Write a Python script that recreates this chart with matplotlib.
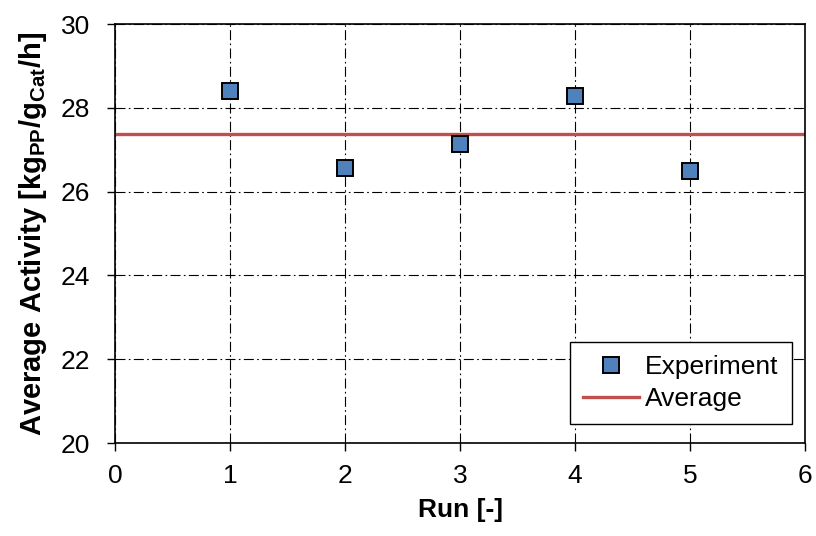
import matplotlib
matplotlib.use('Agg')
import matplotlib.pyplot as plt
import numpy as np

plt.rcParams['font.family'] = ['Liberation Sans', 'DejaVu Sans']
plt.rcParams['mathtext.fontset'] = 'custom'
plt.rcParams['mathtext.rm'] = 'Liberation Sans:bold'
plt.rcParams['mathtext.it'] = 'Liberation Sans:bold'
plt.rcParams['mathtext.bf'] = 'Liberation Sans:bold'

# activity per run
runs = [1, 2, 3, 4, 5]
activity = [28.40, 26.56, 27.14, 28.28, 26.49]
avg = np.mean(activity)

fig = plt.figure(figsize=(8.16, 5.36), dpi=100)
ax = fig.add_axes([0.141, 0.1735, 0.8455, 0.7815])

ax.axhline(avg, color='#C0504D', lw=2.4, label='Average', zorder=2)
ax.plot(runs, activity, ls='none', marker='s', ms=12, mfc='#4F81BD',
        mec='black', mew=1.4, label='Experiment', zorder=3)

ax.set_xlim(0, 6)
ax.set_ylim(20, 30)
ax.set_xticks(range(0, 7))
ax.set_yticks(range(20, 31, 2))
ax.grid(True, color='black', ls=(0, (9, 3, 1.5, 3)), lw=0.8)
ax.tick_params(labelsize=19, direction='out', length=6, width=1)
ax.tick_params(axis='y', pad=12)
ax.tick_params(axis='x', pad=9)
for sp in ax.spines.values():
    sp.set_linewidth(1.2)

ax.set_xlabel('Run [-]', fontsize=19, fontweight='bold', labelpad=7)
ax.set_ylabel('Average Activity [kg$_{PP}$/g$_{Cat}$/h]', fontsize=21,
              fontweight='bold', labelpad=8)

h, l = ax.get_legend_handles_labels()
leg = ax.legend(h[::-1], l[::-1], loc='lower right', fontsize=19, fancybox=False,
                bbox_to_anchor=(792 / 816, 1 - 424 / 536),
                bbox_transform=fig.transFigure, borderaxespad=0,
                edgecolor='black', framealpha=1,
                handlelength=2.1, handletextpad=0.25, labelspacing=0.3,
                borderpad=0.5)
leg.get_frame().set_linewidth(1.0)

fig.savefig('out.png', dpi=100)
